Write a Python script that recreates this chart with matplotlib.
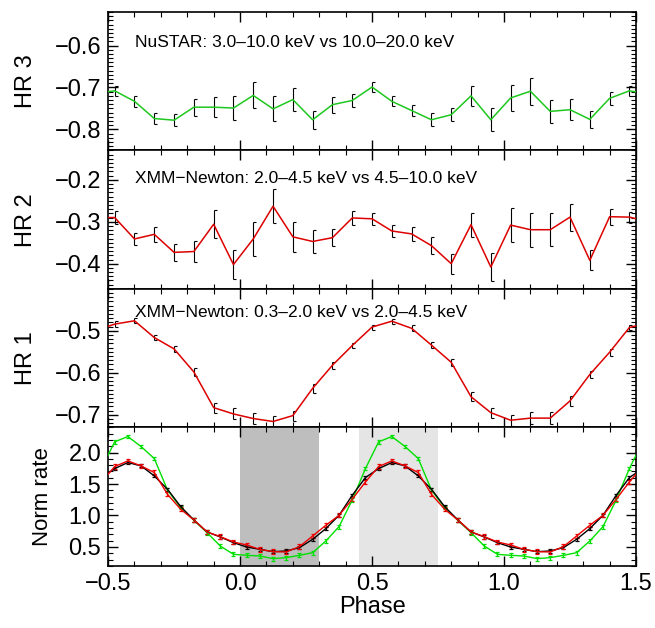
import numpy as np
import matplotlib
matplotlib.use("Agg")
import matplotlib.pyplot as plt
from matplotlib.path import Path
from matplotlib.ticker import MultipleLocator, FuncFormatter

plt.rcParams['font.family'] = ['Liberation Sans', 'DejaVu Sans']

# hardness ratios, bins 0.075 wide centred on phase 0.5 (edge points are clipped)
hr_phase = 0.5 + 0.075 * np.arange(-14, 15)

hr3 = [-0.714, -0.708, -0.733, -0.774, -0.778, -0.747, -0.747, -0.749, -0.719, -0.751,
       -0.729, -0.777, -0.741, -0.731, -0.699, -0.733, -0.755, -0.777, -0.765, -0.720,
       -0.777, -0.725, -0.709, -0.757, -0.753, -0.776, -0.726, -0.708, -0.716]
hr3_err = [0.012, 0.012, 0.013, 0.013, 0.015, 0.020, 0.024, 0.028, 0.031, 0.030,
           0.027, 0.022, 0.019, 0.015, 0.013, 0.012, 0.013, 0.015, 0.016, 0.024,
           0.027, 0.030, 0.032, 0.027, 0.025, 0.020, 0.015, 0.012, 0.012]

hr2 = [-0.290, -0.290, -0.341, -0.330, -0.373, -0.371, -0.306, -0.402, -0.341, -0.263,
       -0.336, -0.347, -0.338, -0.291, -0.293, -0.322, -0.329, -0.357, -0.400, -0.307,
       -0.408, -0.308, -0.319, -0.319, -0.289, -0.392, -0.288, -0.289, -0.300]
hr2_err = [0.016, 0.016, 0.015, 0.018, 0.020, 0.025, 0.033, 0.035, 0.040, 0.041,
           0.035, 0.027, 0.021, 0.017, 0.015, 0.015, 0.017, 0.020, 0.024, 0.029,
           0.034, 0.040, 0.041, 0.039, 0.032, 0.024, 0.019, 0.013, 0.013]

hr1 = [-0.500, -0.484, -0.476, -0.516, -0.543, -0.598, -0.683, -0.698, -0.709, -0.716,
       -0.702, -0.637, -0.582, -0.535, -0.491, -0.477, -0.494, -0.534, -0.575, -0.657,
       -0.695, -0.713, -0.708, -0.708, -0.667, -0.604, -0.551, -0.492, -0.480]
hr1_err = [0.007, 0.007, 0.006, 0.007, 0.008, 0.009, 0.012, 0.013, 0.013, 0.014,
           0.012, 0.010, 0.008, 0.007, 0.006, 0.006, 0.007, 0.008, 0.009, 0.011,
           0.012, 0.013, 0.014, 0.014, 0.011, 0.009, 0.008, 0.007, 0.007]

# normalised light curves, 20 bins per cycle, shown over repeated cycles
rate_phase = 0.025 + 0.05 * np.arange(20)
rate_black = [0.499, 0.462, 0.425, 0.436, 0.489, 0.621, 0.791, 1.003, 1.321, 1.602,
              1.745, 1.841, 1.788, 1.629, 1.417, 1.141, 0.929, 0.738, 0.659, 0.568]
rate_red = [0.531, 0.462, 0.425, 0.420, 0.505, 0.674, 0.844, 1.003, 1.258, 1.533,
            1.777, 1.867, 1.788, 1.682, 1.337, 1.099, 0.929, 0.738, 0.664, 0.579]
rate_green = [0.367, 0.356, 0.314, 0.330, 0.367, 0.409, 0.595, 0.823, 1.247, 1.745,
              2.170, 2.254, 2.095, 1.905, 1.406, 1.125, 0.924, 0.727, 0.515, 0.383]
rate_black_err = 0.025
rate_red_err = 0.035
rate_green_err = 0.03

labels = ["NuSTAR: 3.0\u201310.0 keV vs 10.0\u201320.0 keV",
          "XMM\u2212Newton: 2.0\u20134.5 keV vs 4.5\u201310.0 keV",
          "XMM\u2212Newton: 0.3\u20132.0 keV vs 2.0\u20134.5 keV"]

cap = Path([(0, 0), (1, 0)])
fmt = FuncFormatter(lambda v, p: ("%.1f" % v).replace("-", "\u2212"))

fig = plt.figure(figsize=(6.55, 6.28), dpi=100)
gs = fig.add_gridspec(4, 1, left=0.165, right=0.971, top=0.981, bottom=0.099, hspace=0)
axes = [fig.add_subplot(gs[i]) for i in range(4)]
for ax in axes[1:]:
    ax.sharex(axes[0])


def hr_panel(ax, y, err, color, text, ylim, ticks, label, ty):
    y = np.array(y)
    err = np.array(err)
    ax.plot(hr_phase, y, color=color, lw=1.1, zorder=3)
    ax.vlines(hr_phase, y - err, y + err, color='k', lw=0.8, zorder=2)
    for yy in (y - err, y + err):
        ax.plot(hr_phase, yy, ls='none', marker=cap, ms=4, mec='k', mew=0.8, zorder=2)
    ax.set_ylim(*ylim)
    ax.set_yticks(ticks)
    ax.yaxis.set_minor_locator(MultipleLocator(0.01))
    ax.yaxis.set_major_formatter(fmt)
    ax.set_ylabel(label, fontsize=17)
    ax.yaxis.set_label_coords(-0.135, 0.5)
    ax.text(0.051, ty, text, transform=ax.transAxes, fontsize=12.5, va='baseline')


hr_panel(axes[0], hr3, hr3_err, '#1ec81e', labels[0], (-0.85, -0.52), [-0.8, -0.7, -0.6], "HR 3", 0.745)
hr_panel(axes[1], hr2, hr2_err, '#dd0000', labels[1], (-0.46, -0.13), [-0.4, -0.3, -0.2], "HR 2", 0.765)
hr_panel(axes[2], hr1, hr1_err, '#dd0000', labels[2], (-0.73, -0.40), [-0.7, -0.6, -0.5], "HR 1", 0.80)

ax = axes[3]
ax.axvspan(0.0, 0.3, color='#bebebe', lw=0, zorder=0)
ax.axvspan(0.45, 0.75, color='#e5e5e5', lw=0, zorder=0)
ph = np.concatenate([rate_phase - 1, rate_phase, rate_phase + 1])
for vals, err, col in [(rate_green, rate_green_err, '#00e000'),
                       (rate_black, rate_black_err, 'k'),
                       (rate_red, rate_red_err, '#ee0000')]:
    ax.errorbar(ph, np.tile(vals, 3), yerr=err, color=col, lw=1.0,
                elinewidth=0.9, capsize=1.5, capthick=0.9, zorder=3)
ax.set_ylim(0.2, 2.4)
ax.yaxis.set_major_locator(MultipleLocator(0.5))
ax.yaxis.set_minor_locator(MultipleLocator(0.1))
ax.yaxis.set_major_formatter(fmt)
ax.set_ylabel("Norm rate", fontsize=16)
ax.yaxis.set_label_coords(-0.105, 0.5)
ax.set_xlabel("Phase", fontsize=17, labelpad=1)

for i, a in enumerate(axes):
    a.set_xlim(-0.5, 1.5)
    a.xaxis.set_major_locator(MultipleLocator(0.5))
    a.xaxis.set_minor_locator(MultipleLocator(0.1))
    a.tick_params(which='both', direction='in', top=True, right=True, labelsize=17)
    a.tick_params(which='major', length=7, width=1.0, pad=5)
    a.tick_params(which='minor', length=3.5, width=0.8)
    a.tick_params(axis='x', labelbottom=(i == 3))
    for s in a.spines.values():
        s.set_linewidth(1.2)
axes[3].xaxis.set_major_formatter(fmt)

fig.savefig("out.png", dpi=100)
